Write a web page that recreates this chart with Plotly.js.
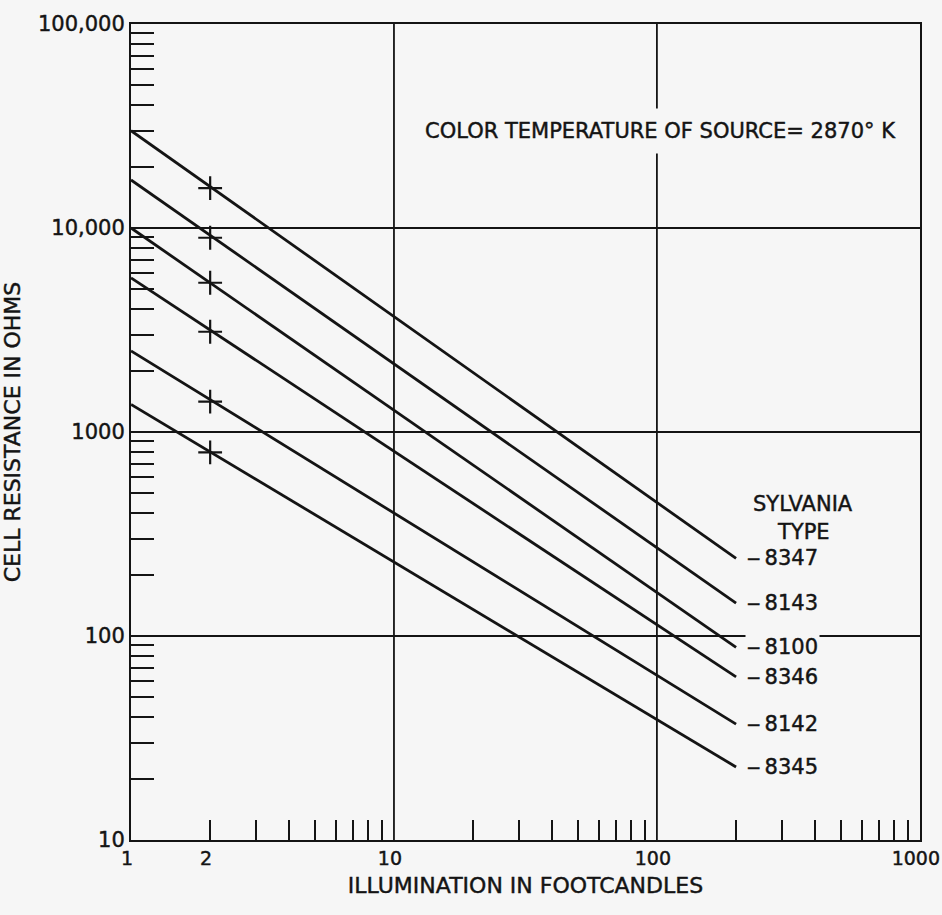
<!DOCTYPE html>
<html>
<head>
<meta charset="utf-8">
<script src="https://cdn.plot.ly/plotly-3.0.1.min.js"></script>
<style>
  html, body { margin: 0; padding: 0; background: #f6f6f6; }
  #chart { width: 942px; height: 915px; }
  #chart svg text { stroke: #141414; stroke-width: 0.45px; }
</style>
</head>
<body>
<div id="chart"></div>
<script>
// ---- Data ----
const cellTypes = ['8347', '8143', '8100', '8346', '8142', '8345'];
const lineIllum = [1, 200];                 // footcandles at the two ends of each line
const resistanceAt1 = [30000, 17200, 10000, 5700, 2500, 1365];   // ohms at 1 fc
const resistanceAt200 = [240, 145, 88, 63, 37, 22.8];           // ohms at 200 fc
const markerIllum = 2;                       // footcandles of the "+" marks
const resistanceAt2 = [15700, 8960, 5390, 3100, 1410, 795];      // ohms at 2 fc

const xTickVals = [1, 2, 10, 100, 1000];
const xTickText = ['1', '2', '10', '100', '1000'];
const yTickVals = [10, 100, 1000, 10000, 100000];
const yTickText = ['10', '100', '1000', '10,000', '100,000'];
const xGridVals = [10, 100];

const ink = '#141414';
const bg = '#f6f6f6';
const fontFam = '"DejaVu Sans", "Liberation Sans", sans-serif';

function minorVals(lo, hi) {
  const out = [];
  for (let d = lo; d < hi; d *= 10) {
    for (let m = 2; m <= 9; m++) out.push(m * d);
  }
  return out;
}

const traces = cellTypes.map((t, i) => ({
  type: 'scatter',
  mode: 'lines',
  name: t,
  x: lineIllum,
  y: [resistanceAt1[i], resistanceAt200[i]],
  line: { color: ink, width: 2.8 },
  hoverinfo: 'x+y+name'
}));

traces.push({
  type: 'scatter',
  mode: 'markers',
  name: 'points',
  x: cellTypes.map(() => markerIllum),
  y: resistanceAt2,
  marker: { symbol: 'cross-thin-open', size: 17, line: { color: ink, width: 2.2 }, color: ink }
});

const annotations = cellTypes.map((t, i) => ({
  xref: 'x', yref: 'y',
  x: Math.log10(lineIllum[1]),
  y: Math.log10(resistanceAt200[i]),
  text: '\u2012\u2009' + t,
  showarrow: false,
  xanchor: 'left', yanchor: 'middle',
  xshift: 9,
  bgcolor: bg,
  font: { family: fontFam, size: 21, color: ink }
}));

annotations.push(
  { xref: 'paper', yref: 'paper', x: 0.852, y: 0.412, text: 'SYLVANIA', showarrow: false,
    xanchor: 'center', yanchor: 'middle', font: { family: fontFam, size: 21, color: ink } },
  { xref: 'paper', yref: 'paper', x: 0.852, y: 0.377, text: 'TYPE', showarrow: false,
    xanchor: 'center', yanchor: 'middle', font: { family: fontFam, size: 21, color: ink } },
  { xref: 'paper', yref: 'paper', x: 0.6705, y: 0.869, text: 'COLOR TEMPERATURE OF SOURCE= 2870\u00b0 K',
    showarrow: false, xanchor: 'center', yanchor: 'middle', bgcolor: bg, borderpad: 10,
    font: { family: fontFam, size: 21, color: ink } }
);

const shapes = xGridVals.map(v => ({
  type: 'line', xref: 'x', yref: 'paper',
  x0: v, x1: v, y0: 0, y1: 1,
  line: { color: ink, width: 1.8 },
  layer: 'below'
}));

const layout = {
  width: 942, height: 915,
  margin: { l: 131, r: 22, t: 24, b: 75 },
  paper_bgcolor: bg,
  plot_bgcolor: bg,
  showlegend: false,
  font: { family: fontFam, size: 21, color: ink },
  xaxis: {
    type: 'log',
    range: [0, 3.0005],
    tickmode: 'array',
    tickvals: xTickVals,
    ticktext: xTickText,
    ticks: '',
    ticklabeloverflow: 'allow',
    ticklabelshift: -4,
    showgrid: false,
    zeroline: false,
    showline: true, mirror: true, linecolor: ink, linewidth: 2,
    tickfont: { family: fontFam, size: 19, color: ink },
    minor: { tickmode: 'array', tickvals: minorVals(1, 1000), ticks: 'inside', ticklen: 20,
             tickwidth: 2, tickcolor: ink, showgrid: false },
    title: { text: 'ILLUMINATION IN FOOTCANDLES', standoff: 10,
             font: { family: fontFam, size: 22, color: ink } }
  },
  yaxis: {
    type: 'log',
    range: [1, 5],
    tickmode: 'array',
    tickvals: yTickVals,
    ticktext: yTickText,
    ticks: '',
    ticklabeloverflow: 'allow',
    showgrid: true, gridcolor: ink, gridwidth: 1.8,
    zeroline: false,
    showline: true, mirror: true, linecolor: ink, linewidth: 2,
    tickfont: { family: fontFam, size: 21, color: ink },
    minor: { tickmode: 'array', tickvals: minorVals(10, 100000), ticks: 'inside', ticklen: 23,
             tickwidth: 2, tickcolor: ink, showgrid: false },
    title: { text: 'CELL RESISTANCE IN OHMS', standoff: 12,
             font: { family: fontFam, size: 22, color: ink } }
  },
  annotations: annotations,
  shapes: shapes
};

Plotly.newPlot('chart', traces, layout, { staticPlot: true, displayModeBar: false });
</script>
</body>
</html>
